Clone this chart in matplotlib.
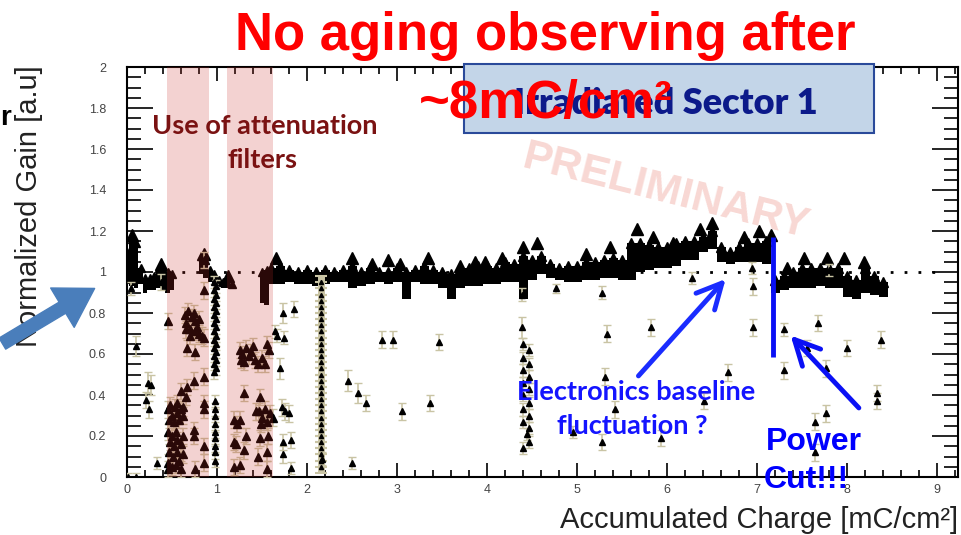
import numpy as np
import matplotlib.pyplot as plt
from matplotlib.ticker import MultipleLocator, FuncFormatter
from matplotlib.patches import Rectangle, FancyArrowPatch

plt.rcParams['font.family'] = ['Liberation Sans', 'DejaVu Sans']

# gain band (lower / upper edge of the dense black band)
early_x = [0.00, 0.05, 0.10, 0.15, 0.20, 0.25, 0.30, 0.35, 0.40, 0.45, 0.50,
           0.82, 0.87, 0.92, 0.97, 1.02, 1.07, 1.12, 1.17, 1.50, 1.55]
early_lo = [0.94, 0.93, 0.92, 0.94, 0.90, 0.91, 0.91, 0.92, 0.91, 0.90, 0.91,
            0.99, 0.97, 0.95, 0.93, 0.93, 0.92, 0.92, 0.92, 0.85, 0.84]
early_hi = [1.10, 1.16, 1.14, 1.02, 0.97, 0.97, 0.98, 1.02, 1.01, 1.00, 0.99,
            1.08, 1.06, 1.01, 0.99, 0.96, 0.95, 0.97, 0.94, 1.00, 1.01]

band_x = [1.6, 1.7, 1.8, 1.9, 2.0, 2.1, 2.2, 2.3, 2.4, 2.5, 2.6, 2.7, 2.8, 2.9,
          3.0, 3.1, 3.2, 3.3, 3.4, 3.5, 3.6, 3.7, 3.8, 3.9, 4.0, 4.1, 4.2, 4.3,
          4.4, 4.5, 4.6, 4.7, 4.8, 4.9, 5.0, 5.1, 5.2, 5.3, 5.4, 5.5, 5.6, 5.7,
          5.8, 5.9, 6.0, 6.1, 6.2, 6.3, 6.4, 6.5, 6.6, 6.7, 6.8, 6.9, 7.0, 7.1,
          7.2, 7.3, 7.4, 7.5, 7.6, 7.7, 7.8, 7.9, 8.0, 8.1, 8.2, 8.3, 8.4]
band_lo = [0.94, 0.94, 0.95, 0.94, 0.94, 0.93, 0.94, 0.95, 0.95, 0.92, 0.93, 0.94,
           0.95, 0.94, 0.95, 0.87, 0.95, 0.94, 0.94, 0.92, 0.87, 0.92, 0.93, 0.93,
           0.94, 0.94, 0.95, 0.95, 0.87, 0.96, 0.99, 0.97, 0.96, 0.95, 0.95, 0.96,
           0.96, 0.97, 0.97, 0.96, 0.96, 1.00, 1.01, 1.02, 1.02, 1.03, 1.06, 1.06,
           1.10, 1.11, 1.05, 1.04, 1.05, 1.05, 1.05, 1.04, 0.90, 0.91, 0.92, 0.92,
           0.92, 0.93, 0.92, 0.92, 0.88, 0.87, 0.90, 0.89, 0.88]
band_hi = [1.02, 1.03, 1.01, 1.00, 1.01, 1.00, 1.01, 1.00, 1.01, 1.03, 1.00, 1.02,
           1.00, 1.00, 1.02, 1.00, 1.01, 1.03, 1.01, 1.00, 0.99, 1.02, 1.02, 1.03,
           1.03, 1.02, 1.05, 1.04, 1.08, 1.06, 1.08, 1.04, 1.02, 1.03, 1.03, 1.05,
           1.05, 1.06, 1.07, 1.06, 1.14, 1.14, 1.13, 1.12, 1.12, 1.14, 1.15, 1.15,
           1.17, 1.20, 1.12, 1.10, 1.12, 1.14, 1.14, 1.15, 0.96, 0.98, 1.00, 1.02,
           1.02, 1.02, 1.02, 1.02, 0.98, 0.96, 1.02, 0.98, 0.95]

peak_x = [0.05, 0.38, 0.85, 1.12, 1.65, 2.50, 2.72, 2.90, 3.03, 3.34, 3.70, 3.86,
          3.98, 4.16, 4.40, 4.55, 5.10, 5.37, 5.66, 5.84, 6.07, 6.36, 6.50, 6.85,
          7.02, 7.15, 7.33, 7.52, 7.77, 7.96, 8.19]
peak_y = [1.18, 1.04, 1.09, 0.98, 1.07, 1.07, 1.04, 1.06, 1.04, 1.07, 1.03, 1.05,
          1.05, 1.07, 1.12, 1.14, 1.09, 1.12, 1.21, 1.17, 1.14, 1.21, 1.24, 1.17,
          1.20, 1.18, 1.02, 1.07, 1.07, 1.07, 1.05]

# isolated low-gain points with error bars
pt_x = [0.01, 0.10, 0.10, 0.21, 0.24, 0.23, 0.27, 0.33, 0.04, 0.38, 1.73, 1.85,
        1.74, 1.64, 1.67, 1.70, 1.72, 1.76, 1.80, 1.73, 1.82, 1.73, 1.82, 2.17,
        2.45, 2.57, 2.65, 2.50, 2.83, 2.95, 3.05, 3.36, 3.47, 4.39, 4.39, 4.76,
        4.95, 5.28, 5.33, 5.31, 5.42, 5.28, 5.82, 5.93, 6.28, 6.41, 6.68, 6.95,
        6.95, 6.94, 7.30, 7.30, 7.55, 7.68, 7.76, 7.64, 7.76, 7.64, 7.80, 8.00,
        8.38, 8.33, 8.33]
pt_y = [0.00, 0.00, 0.64, 0.375, 0.33, 0.46, 0.45, 0.07, 0.92, 0.95, 0.80, 0.82,
        0.68, 0.71, 0.69, 0.53, 0.34, 0.32, 0.31, 0.17, 0.18, 0.11, 0.045, 0.09,
        0.47, 0.41, 0.36, 0.07, 0.67, 0.67, 0.32, 0.36, 0.66, 0.89, 0.73, 0.92,
        0.22, 0.90, 0.70, 0.49, 0.33, 0.17, 0.73, 0.19, 0.97, 0.37, 0.51, 0.73,
        0.93, 1.02, 0.72, 0.52, 0.63, 0.75, 0.53, 0.27, 0.31, 0.12, 1.01, 0.63,
        0.67, 0.41, 0.37]
pt_err = [0.02, 0.02, 0.05, 0.04, 0.04, 0.05, 0.05, 0.03, 0.03, 0.04, 0.05, 0.04,
          0.03, 0.03, 0.03, 0.05, 0.04, 0.04, 0.04, 0.04, 0.04, 0.04, 0.03, 0.03,
          0.05, 0.05, 0.04, 0.03, 0.04, 0.04, 0.04, 0.04, 0.04, 0.03, 0.05, 0.02,
          0.03, 0.03, 0.04, 0.04, 0.04, 0.04, 0.04, 0.04, 0.03, 0.04, 0.04, 0.04,
          0.04, 0.03, 0.03, 0.04, 0.04, 0.04, 0.04, 0.04, 0.04, 0.04, 0.03, 0.04,
          0.04, 0.04, 0.04]

# points taken with attenuation filters
filt_x = [0.64, 0.68, 0.66, 0.70, 0.72, 0.74, 0.76, 0.78, 0.80, 0.83, 0.86, 0.70,
          0.75, 0.65, 0.80, 0.67, 0.76, 0.67, 0.74, 0.85, 0.66, 0.85, 0.85, 0.74,
          0.74, 0.85, 0.76, 0.85, 0.85, 0.85, 0.45, 0.60, 0.62,
          0.45, 0.48, 0.50, 0.53, 0.56, 0.58, 0.60, 0.47, 0.52, 0.62, 0.55,
          0.46, 0.50, 0.54, 0.48, 0.52, 0.56, 0.60, 0.47, 0.51, 0.55, 0.58, 0.62,
          0.45, 0.46, 0.50, 0.54, 0.60, 0.62,
          1.25, 1.28, 1.32, 1.35, 1.30, 1.38, 1.42, 1.46, 1.50, 1.53, 1.27, 1.40,
          1.30, 1.48, 1.43, 1.56, 1.58, 1.47, 1.50, 1.53, 1.56, 1.59, 1.62, 1.49,
          1.19, 1.22, 1.25, 1.19, 1.21, 1.32, 1.48, 1.57, 1.30, 1.45, 1.56, 1.19,
          1.26, 1.56]
filt_y = [0.79, 0.81, 0.75, 0.72, 0.78, 0.80, 0.76, 0.73, 0.70, 0.69, 0.68, 0.69,
          0.71, 0.72, 0.77, 0.63, 0.61, 0.44, 0.47, 0.49, 0.39, 0.33, 0.36, 0.23,
          0.20, 0.15, 0.04, 0.07, 0.91, 1.06, 0.76, 0.42, 0.34,
          0.33, 0.35, 0.30, 0.34, 0.31, 0.28, 0.33, 0.28, 0.27, 0.30, 0.36,
          0.22, 0.20, 0.22, 0.17, 0.15, 0.18, 0.16, 0.12, 0.10, 0.12, 0.08, 0.11,
          0.07, 0.04, 0.05, 0.06, 0.04, 0.20,
          0.62, 0.60, 0.63, 0.59, 0.56, 0.61, 0.57, 0.55, 0.58, 0.55, 0.57, 0.64,
          0.41, 0.39, 0.32, 0.65, 0.62, 0.32, 0.29, 0.33, 0.27, 0.31, 0.29, 0.26,
          0.28, 0.26, 0.28, 0.17, 0.16, 0.20, 0.19, 0.20, 0.13, 0.10, 0.12, 0.05,
          0.06, 0.04]

# dense vertical runs
col1_x = [0.97, 0.99, 0.97, 0.99, 0.97, 0.99, 0.97, 0.99, 0.97, 0.99, 0.97, 0.99,
          0.97, 0.99, 0.97, 0.99, 0.97, 0.99, 0.97, 0.99, 0.97, 0.99, 0.97, 0.98,
          0.98, 0.98, 0.98, 0.98, 0.98, 0.98, 0.98, 0.98]
col1_y = [0.95, 0.93, 0.91, 0.89, 0.87, 0.85, 0.83, 0.81, 0.79, 0.77, 0.75, 0.73,
          0.71, 0.69, 0.67, 0.65, 0.63, 0.61, 0.59, 0.57, 0.55, 0.53, 0.51, 0.37,
          0.33, 0.30, 0.26, 0.22, 0.19, 0.15, 0.12, 0.08]
col2_y = [0.95, 0.92, 0.89, 0.86, 0.83, 0.80, 0.77, 0.74, 0.71, 0.68, 0.65, 0.62,
          0.59, 0.56, 0.53, 0.50, 0.47, 0.44, 0.41, 0.38, 0.35, 0.32, 0.29, 0.26,
          0.23, 0.20, 0.17, 0.14, 0.11, 0.08, 0.05]
col3_x = [4.40, 4.47, 4.40, 4.47, 4.40, 4.47, 4.40, 4.47, 4.40, 4.47, 4.40, 4.47,
          4.40, 4.47, 4.44, 4.47, 4.40]
col3_y = [0.65, 0.62, 0.58, 0.55, 0.52, 0.49, 0.46, 0.43, 0.40, 0.36, 0.33, 0.30,
          0.27, 0.24, 0.21, 0.17, 0.14]

W, H = 961, 535
def fx(px):
    return px / W
def fy(py):
    return 1 - py / H

fig = plt.figure(figsize=(9.61, 5.35), dpi=100)
ax = fig.add_axes([fx(127), fy(477), 831 / W, 410 / H])

errc = '#c9c4a4'

# band
ax.bar(early_x, np.array(early_hi) - np.array(early_lo), bottom=early_lo,
       width=0.05, color='k', lw=0, zorder=3)
ax.plot(early_x, early_hi, '^', ms=6, color='k', zorder=3)
ax.bar(band_x, np.array(band_hi) - np.array(band_lo), bottom=band_lo,
       width=0.1, color='k', lw=0, zorder=3)
ax.plot(band_x, band_hi, '^', ms=7, color='k', zorder=3)
ax.plot(peak_x, peak_y, '^', ms=8, color='k', zorder=3)

# scattered points
ax.errorbar(pt_x, pt_y, yerr=pt_err, fmt='^', ms=5, color='k', ecolor=errc,
            elinewidth=1.2, capsize=3, zorder=4)
ax.errorbar(filt_x, filt_y, yerr=0.04, fmt='^', ms=6, color='k', ecolor=errc,
            elinewidth=1.2, capsize=3, zorder=4)
ax.errorbar(col1_x, col1_y, yerr=0.03, fmt='^', ms=4, color='k', ecolor=errc,
            elinewidth=1.2, capsize=3, zorder=4)
ax.errorbar([2.15] * len(col2_y), col2_y, yerr=0.03, fmt='^', ms=3, color='k',
            ecolor=errc, elinewidth=5, capsize=4, capthick=1.5, zorder=4)
ax.errorbar(col3_x, col3_y, yerr=0.03, fmt='^', ms=4, color='k', ecolor=errc,
            elinewidth=1.2, capsize=3, zorder=4)

ax.hlines(1, 0.45, 9.0, colors='k', linestyles=(0, (1, 4)), lw=2, zorder=1)

# attenuation filter periods
ax.axvspan(0.44, 0.91, color='#cb2f26', alpha=0.21, lw=0, zorder=6)
ax.axvspan(1.11, 1.62, color='#cb2f26', alpha=0.21, lw=0, zorder=6)

ax.text(fx(665), fy(192), 'PRELIMINARY', transform=fig.transFigure,
        rotation=-14, color='#f8d8d4', fontsize=31, fontweight='bold',
        ha='center', va='center', zorder=0.5)

ax.set_xlim(0, 9.23)
ax.set_ylim(0, 2)
ax.xaxis.set_major_locator(MultipleLocator(1))
ax.xaxis.set_minor_locator(MultipleLocator(0.2))
ax.yaxis.set_major_locator(MultipleLocator(0.2))
ax.yaxis.set_minor_locator(MultipleLocator(0.05))
ax.yaxis.set_major_formatter(FuncFormatter(lambda v, p: f'{v:g}'))
ax.tick_params(which='both', direction='in', top=True, right=True, width=1.2,
               labelsize=9, labelcolor='#444444')
ax.tick_params(axis='x', which='major', length=10, pad=5)
ax.tick_params(axis='x', which='minor', length=5)
ax.tick_params(axis='y', which='major', length=19, pad=15)
ax.tick_params(axis='y', which='minor', length=10)
for s in ax.spines.values():
    s.set_linewidth(1.5)

# annotations
ax.vlines(7.17, 0.585, 1.17, colors='#0a10f5', lw=3.5, zorder=10)
ax.add_patch(FancyArrowPatch((5.66, 0.483), (6.67, 0.976), arrowstyle='->,head_length=0.9,head_width=0.45',
                             mutation_scale=20, color='#1a2cff', lw=3.5, zorder=10))
ax.add_patch(FancyArrowPatch((8.15, 0.327), (7.35, 0.70), arrowstyle='->,head_length=0.9,head_width=0.45',
                             mutation_scale=20, color='#0a10f5', lw=3.5, zorder=10))
fig.add_artist(FancyArrowPatch((0, fy(345)), (fx(97), fy(287)), transform=fig.transFigure,
                               arrowstyle='simple,head_width=2.2,tail_width=0.62,head_length=1.8',
                               mutation_scale=15, color='#4a7ebb', zorder=5))

fig.add_artist(Rectangle((fx(464), fy(133)), 410 / W, 69 / H, transform=fig.transFigure,
                         fc='#c3d5e8', ec='#2a4a9a', lw=1.5, zorder=1))
fig.text(fx(666), fy(103), 'Irradiated Sector 1', family=['Lato', 'DejaVu Sans'],
         fontweight='heavy', fontsize=26, color='#0c1a8a', ha='center', va='center', zorder=2)

fig.text(fx(545), fy(50), 'No aging observing after', color='#ff0000', fontsize=38,
         fontweight='bold', ha='center', va='baseline', zorder=4)
fig.text(fx(546), fy(118), '~8mC/cm²', color='#ff0000', fontsize=38,
         fontweight='bold', ha='center', va='baseline', zorder=4)

fig.text(fx(265), fy(126), 'Use of attenuation', family=['Lato', 'DejaVu Sans'],
         fontweight='bold', fontsize=19.5, color='#7a1212', ha='center', va='center')
fig.text(fx(263), fy(160), 'filters', family=['Lato', 'DejaVu Sans'],
         fontweight='bold', fontsize=19.5, color='#7a1212', ha='center', va='center')

fig.text(fx(636), fy(392), 'Electronics baseline', family=['Lato', 'DejaVu Sans'],
         fontweight='bold', fontsize=19.5, color='#1414ff', ha='center', va='center')
fig.text(fx(632), fy(426), 'fluctuation ?', family=['Lato', 'DejaVu Sans'],
         fontweight='bold', fontsize=19.5, color='#1414ff', ha='center', va='center')
fig.text(fx(814), fy(442), 'Power', fontweight='bold', fontsize=23, color='#0000ff',
         ha='center', va='center')
fig.text(fx(806), fy(480), 'Cut!!!', fontweight='bold', fontsize=23, color='#0000ff',
         ha='center', va='center')

fig.text(fx(29), fy(65), 'Normalized Gain [a.u]', fontsize=21, rotation=90,
         ha='center', va='top', color='#222222', zorder=1)
fig.text(fx(958), fy(520), 'Accumulated Charge [mC/cm²]', fontsize=21,
         ha='right', va='center', color='#222222')
fig.text(0.0, fy(118), 'r', fontsize=20, fontweight='bold', ha='left', va='center')

fig.savefig('out.png', dpi=100)
